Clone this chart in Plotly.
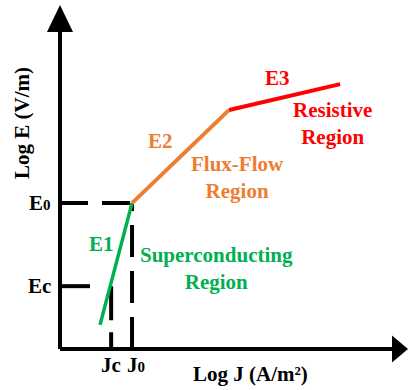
import plotly.graph_objects as go

# ---- data (abstract log units) ----
J_c = 1.47
J_0 = 2.07
E_c = 1.80
E_0 = 4.18

e1_J = [1.15, J_0]
e1_E = [0.69, E_0]
e2_J = [J_0, 4.86]
e2_E = [E_0, 6.85]
e3_J = [4.86, 8.05]
e3_E = [6.85, 7.59]

GREEN = "#00B050"
ORANGE = "#ED7D31"
RED = "#FF0000"
FONT = "Liberation Serif"

fig = go.Figure()

# guide (dashed) lines
fig.add_trace(go.Scatter(x=[0, J_0], y=[E_0, E_0], mode="lines",
                         line=dict(color="black", width=4, dash="28px,14px")))
fig.add_trace(go.Scatter(x=[0, J_c], y=[E_c, E_c], mode="lines",
                         line=dict(color="black", width=4, dash="30px,30px")))
fig.add_trace(go.Scatter(x=[J_0, J_0], y=[0, E_0], mode="lines",
                         line=dict(color="black", width=4, dash="32px,14px")))
fig.add_trace(go.Scatter(x=[J_c, J_c], y=[E_c, 0], mode="lines",
                         line=dict(color="black", width=4, dash="34px,12px")))

# E-J characteristic
fig.add_trace(go.Scatter(x=e1_J, y=e1_E, mode="lines", line=dict(color=GREEN, width=3.5)))
fig.add_trace(go.Scatter(x=e2_J, y=e2_E, mode="lines", line=dict(color=ORANGE, width=4)))
fig.add_trace(go.Scatter(x=e3_J, y=e3_E, mode="lines", line=dict(color=RED, width=4)))

# axes with arrows
shapes = [
    dict(type="line", x0=0, y0=0, x1=0, y1=9.1, line=dict(color="black", width=4)),
    dict(type="line", x0=0, y0=0, x1=9.56, y1=0, line=dict(color="black", width=4)),
    dict(type="path", path="M -0.374,9.08 L 0.374,9.08 L 0,9.86 Z",
         fillcolor="black", line=dict(width=0)),
    dict(type="path", path="M 9.54,-0.387 L 9.54,0.387 L 10.0,0 Z",
         fillcolor="black", line=dict(width=0)),
]

def ann(text, x, y, color="black", size=21, **kw):
    d = dict(text=f"<b>{text}</b>", x=x, y=y, xref="x", yref="y", showarrow=False,
             font=dict(family=FONT, size=size, color=color))
    d.update(kw)
    return d

sub = "<span style='font-size:15px'>0</span>"
annotations = [
    ann("Log E (V/m)", -1.09, 6.48, textangle=-90),
    ann("Log J (A/m²)", 5.46, -0.72),
    ann("E" + sub, -0.2, E_0, xanchor="right"),
    ann("Ec", -0.2, E_c, xanchor="right"),
    ann("Jc", J_c, -0.46),
    ann("J" + sub, J_0, -0.46, xshift=4),
    ann("E1", 1.18, 3.01, GREEN),
    ann("Superconducting<br>Region", 4.51, 2.32, GREEN),
    ann("E2", 2.90, 5.96, ORANGE),
    ann("Flux-Flow<br>Region", 5.11, 4.91, ORANGE),
    ann("E3", 6.26, 7.77, RED),
    ann("Resistive<br>Region", 7.84, 6.45, RED),
]

fig.update_layout(
    width=408, height=390,
    margin=dict(l=0, r=0, t=0, b=0),
    paper_bgcolor="white", plot_bgcolor="white",
    showlegend=False,
    shapes=shapes, annotations=annotations,
    xaxis=dict(range=[-1.724, 10.0], visible=False, fixedrange=True),
    yaxis=dict(range=[-1.175, 10.0], visible=False, fixedrange=True),
)

fig.write_html("out.html", config={"displayModeBar": False},
               post_script="document.body.style.margin='0';document.body.style.overflow='hidden';")
